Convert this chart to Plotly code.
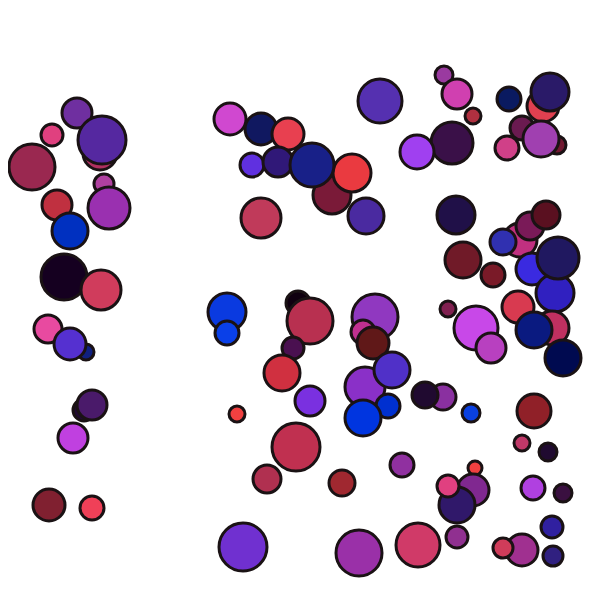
import plotly.graph_objects as go

# bubble data: x, y, radius (px), colour  (drawn back to front)
xs = [77, 52, 100, 102, 32, 104, 109, 57, 70, 64, 101, 86, 48, 70, 84, 92, 73, 49, 92,
      230, 261, 288, 252, 278, 332, 352, 312, 366, 261, 380,
      444, 457, 473, 452, 417, 509, 543, 550, 522, 557, 507, 541,
      456, 520, 530, 546, 503, 463, 493, 532, 555, 558, 448, 552, 518, 534, 563, 476, 491,
      227, 227, 298, 310, 293, 282, 310, 237, 296, 267, 342, 243, 359, 375, 363, 373, 365, 388, 392, 363,
      443, 425, 471, 534, 522, 548, 402, 475, 473, 457, 448, 533, 563, 552, 553, 522, 503, 418, 457]
ys = [113, 135, 153, 140, 167, 184, 208, 205, 231, 277, 290, 352, 329, 344, 410, 405, 438, 505, 508,
      119, 129, 134, 165, 162, 195, 173, 165, 216, 218, 101,
      75, 94, 116, 143, 152, 99, 106, 92, 128, 145, 148, 139,
      215, 240, 226, 215, 242, 260, 275, 269, 293, 258, 309, 328, 307, 330, 358, 328, 348,
      312, 333, 303, 321, 348, 373, 401, 414, 447, 479, 483, 547, 553, 317, 332, 343, 387, 406, 370, 418,
      397, 395, 413, 411, 443, 452, 465, 468, 490, 505, 486, 488, 493, 527, 556, 550, 548, 545, 537]
radii = [16, 12, 18, 25, 24, 11, 22, 16, 19, 24, 21, 9, 15, 17, 12, 16, 16, 17, 13,
         17, 17, 17, 13, 16, 20, 20, 23, 19, 21, 23,
         10, 16, 9, 22, 18, 13, 17, 20, 13, 10, 13, 19,
         20, 18, 15, 15, 14, 19, 13, 17, 20, 22, 9, 18, 17, 19, 19, 23, 16,
         20, 13, 13, 24, 12, 19, 16, 9, 25, 15, 14, 25, 24, 24, 13, 17, 21, 13, 19, 19,
         14, 14, 10, 18, 9, 10, 13, 8, 17, 19, 12, 13, 10, 12, 11, 17, 11, 23, 12]
colors = ["#6f2fa0", "#e0407f", "#b03060", "#5528a0", "#9a2850", "#b040a0", "#9a30b0", "#c03040",
          "#0030c0", "#150020", "#d03c5c", "#102080", "#e84aa0", "#5530d0", "#200a30", "#4a1a6a",
          "#c040e0", "#802030", "#f04058",
          "#d048d0", "#101860", "#e84050", "#6030e0", "#301878", "#7a1a38", "#ea3a40", "#182088",
          "#4a2aa0", "#c03a5a", "#5530b0",
          "#9a3aa0", "#d040b0", "#b03040", "#3a1048", "#a040f0", "#0a1a60", "#e04050", "#2a1a68",
          "#6a1a50", "#701830", "#d04088", "#a040b0",
          "#201048", "#c03080", "#7a1a58", "#5a1020", "#3030b0", "#701a28", "#7a1a28", "#3a2ae0",
          "#3020c0", "#201860", "#802050", "#c03060", "#d83a50", "#0a1a80", "#000a50", "#c848e8",
          "#b840c0",
          "#0a3ae0", "#0a40e8", "#100010", "#b83050", "#4a1050", "#d03040", "#7a30e0", "#f04040",
          "#c03050", "#b03050", "#a02830", "#7030d0", "#9a30a8", "#9038c0", "#c03090", "#601818",
          "#8a30c8", "#0030d0", "#5030c8", "#0035e0",
          "#8a30a0", "#200a30", "#0a40e0", "#902028", "#c03868", "#200a30", "#9030a0", "#f04040",
          "#802890", "#30186a", "#e04080", "#b040e0", "#3a1040", "#3020a0", "#302080", "#a03090",
          "#d03c5a", "#d03a68", "#903090"]

sizes = [2 * r - 2 for r in radii]

fig = go.Figure(go.Scatter(
    x=xs, y=ys, mode="markers",
    marker=dict(size=sizes, color=colors, opacity=1,
                line=dict(color="#1a1214", width=3)),
    hoverinfo="skip",
))
fig.update_layout(
    width=600, height=616,
    margin=dict(l=0, r=0, t=0, b=0),
    paper_bgcolor="white", plot_bgcolor="white",
    showlegend=False,
    xaxis=dict(range=[8, 608], visible=False),
    yaxis=dict(range=[624, 8], visible=False),
)
fig.write_html("out.html")
